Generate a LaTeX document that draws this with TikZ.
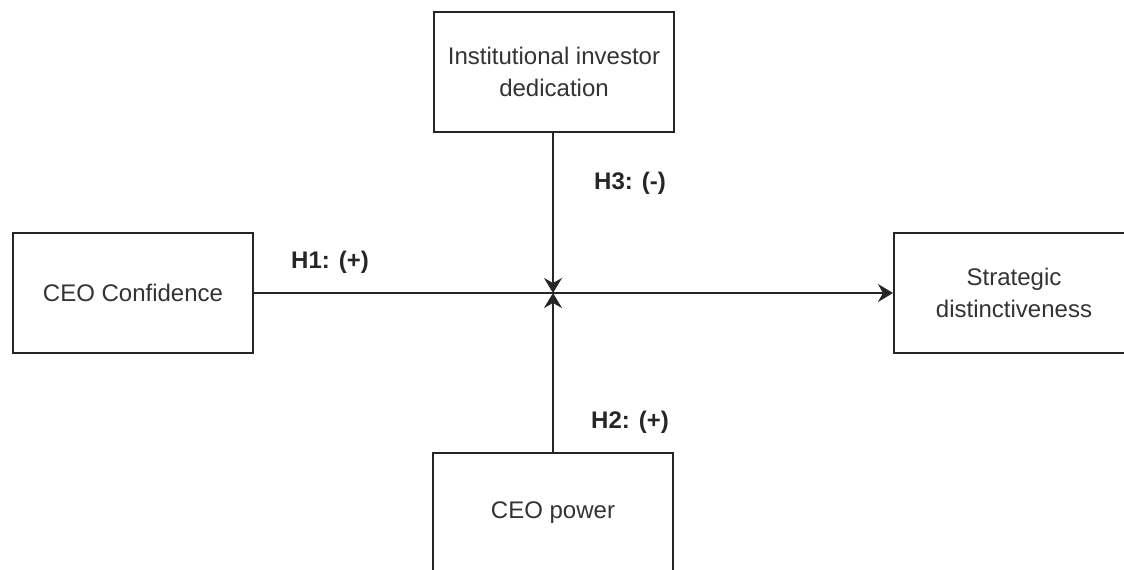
\documentclass[tikz,border=0pt]{standalone}
\usepackage{fontspec}
\setmainfont{Liberation Sans}
\usetikzlibrary{positioning,arrows.meta}

\begin{document}
\begin{tikzpicture}[x=0.5pt,y=-0.5pt,%
		   construct/.style={draw=black!85,line width=1pt,fill=white,text=black!80,
		     minimum width=120pt,minimum height=60pt,align=center,
		     font=\fontsize{12}{16}\selectfont},
		   hypo/.style={text=black!85,font=\fontsize{12}{14}\selectfont\bfseries},
		   effect/.style={-{Stealth[length=7.5pt,width=9pt,inset=2.5pt]},draw=black!85,line width=1pt}]

	\useasboundingbox (0,0) rectangle (1124,569);
	\clip (0,0) rectangle (1124,569);

	\coordinate (mid) at (553,293);
	\node[construct] (conf) at (133,293) {CEO Confidence};
	\node[construct] (inst) at (554,71.5) {Institutional investor\\dedication};
	\node[construct] (strat) at (1014,293) {Strategic\\distinctiveness};
	\node[construct] (power) at (553,513) {CEO power};

	\draw[effect] (conf.east) -- (strat.west);
	\draw[effect] (inst.south -| mid) -- (mid);
	\draw[effect] (power.north -| mid) -- (mid);

	\node[hypo] (h1) at (330,262) {H1: (+)};
	\node[hypo] (h3) at (630,183) {H3: (-)};
	\node[hypo] (h2) at (630,422) {H2: (+)};
\end{tikzpicture}
\end{document}
